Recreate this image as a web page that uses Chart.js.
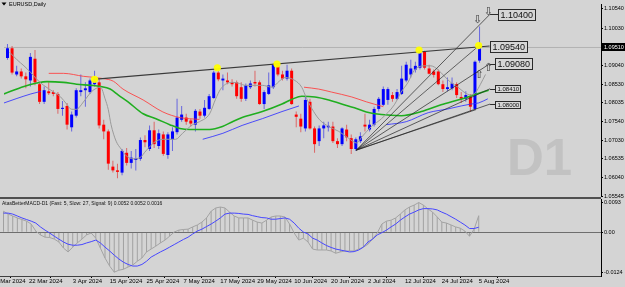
<!DOCTYPE html>
<html>
<head>
<meta charset="utf-8">
<script src="https://cdn.jsdelivr.net/npm/chart.js@4.4.1/dist/chart.umd.min.js"></script>
<style>
  html, body { margin: 0; padding: 0; background: #d4d4d4; }
  #wrap { position: relative; width: 625px; height: 287px; overflow: hidden; background: #d4d4d4; }
  #main { position: absolute; left: 0; top: 0; z-index: 2; }
  #macd { position: absolute; left: 0; top: 197px; z-index: 1; }
  #sep { position: absolute; left: 0; top: 197px; width: 601px; height: 2px; background: #505050; z-index: 3; }
</style>
</head>
<body>
<div id="wrap">
  <canvas id="main" width="625" height="205"></canvas>
  <canvas id="macd" width="625" height="90"></canvas>
  <div id="sep"></div>
</div>
<script>
// ---- data (bar 0 = 13 Mar 2024, bar 103 = 5 Aug 2024) ----
const dateLabels = ['12 Mar 2024', '22 Mar 2024', '3 Apr 2024', '15 Apr 2024', '25 Apr 2024', '7 May 2024',
  '17 May 2024', '29 May 2024', '10 Jun 2024', '20 Jun 2024', '2 Jul 2024', '12 Jul 2024', '24 Jul 2024', '5 Aug 2024'];
const dateBars = [-2.5, 5.5, 15, 23, 31, 39, 47, 55, 63, 71, 79, 87, 95, 103];

const priceTicks = [1.10540, 1.10030, 1.09040, 1.08530, 1.08035, 1.07540, 1.07030, 1.06535, 1.06040, 1.05545];
const macdTicks = [0.0093, 0, -0.0124];

const openP = [1.0923, 1.0949, 1.0879, 1.0887, 1.0874, 1.0863, 1.0921, 1.0853, 1.0806, 1.0834,
  1.0832, 1.0827, 1.0787, 1.0795, 1.0738, 1.0769, 1.0832, 1.0837, 1.0832, 1.0853,
  1.0858, 1.0745, 1.0727, 1.0633, 1.0623, 1.0617, 1.0670, 1.0643, 1.0651, 1.0654,
  1.0704, 1.0680, 1.0730, 1.0688, 1.0719, 1.0664, 1.0706, 1.0725, 1.0758, 1.0764,
  1.0756, 1.0745, 1.0780, 1.0769, 1.0787, 1.0816, 1.0884, 1.0863, 1.0863, 1.0858,
  1.0858, 1.0845, 1.0814, 1.0845, 1.0859, 1.0858, 1.0800, 1.0827, 1.0845, 1.0905,
  1.0879, 1.0868, 1.0889, 1.0772, 1.0761, 1.0735, 1.0806, 1.0735, 1.0701, 1.0735,
  1.0738, 1.0740, 1.0701, 1.0693, 1.0732, 1.0709, 1.0680, 1.0701, 1.0745, 1.0732,
  1.0745, 1.0787, 1.0798, 1.0811, 1.0824, 1.0814, 1.0827, 1.0863, 1.0879, 1.0892,
  1.0897, 1.0939, 1.0895, 1.0887, 1.0887, 1.0853, 1.0840, 1.0842, 1.0853, 1.0819,
  1.0814, 1.0821, 1.0787, 1.0916];
const highP = [1.0960, 1.0955, 1.0902, 1.0895, 1.0884, 1.0936, 1.0944, 1.0861, 1.0847, 1.0858,
  1.0837, 1.0832, 1.0808, 1.0803, 1.0780, 1.0842, 1.0879, 1.0858, 1.0868, 1.0889,
  1.0866, 1.0758, 1.0732, 1.0649, 1.0641, 1.0680, 1.0683, 1.0675, 1.0680, 1.0711,
  1.0717, 1.0743, 1.0753, 1.0732, 1.0727, 1.0725, 1.0738, 1.0814, 1.0795, 1.0774,
  1.0761, 1.0787, 1.0787, 1.0811, 1.0827, 1.0889, 1.0897, 1.0879, 1.0884, 1.0866,
  1.0863, 1.0858, 1.0855, 1.0863, 1.0889, 1.0863, 1.0837, 1.0884, 1.0908, 1.0910,
  1.0889, 1.0905, 1.0895, 1.0780, 1.0774, 1.0819, 1.0814, 1.0740, 1.0743, 1.0753,
  1.0753, 1.0753, 1.0709, 1.0738, 1.0745, 1.0719, 1.0711, 1.0725, 1.0774, 1.0758,
  1.0793, 1.0819, 1.0847, 1.0845, 1.0832, 1.0840, 1.0902, 1.0913, 1.0918, 1.0913,
  1.0944, 1.0942, 1.0905, 1.0892, 1.0892, 1.0863, 1.0871, 1.0871, 1.0858, 1.0832,
  1.0834, 1.0827, 1.0916, 1.1007];
const lowP = [1.0918, 1.0879, 1.0874, 1.0868, 1.0842, 1.0847, 1.0850, 1.0800, 1.0800, 1.0824,
  1.0821, 1.0774, 1.0769, 1.0732, 1.0727, 1.0764, 1.0821, 1.0793, 1.0827, 1.0847,
  1.0735, 1.0706, 1.0625, 1.0617, 1.0602, 1.0610, 1.0636, 1.0628, 1.0623, 1.0649,
  1.0685, 1.0675, 1.0683, 1.0680, 1.0662, 1.0654, 1.0675, 1.0719, 1.0753, 1.0745,
  1.0740, 1.0727, 1.0761, 1.0764, 1.0785, 1.0814, 1.0861, 1.0837, 1.0853, 1.0847,
  1.0814, 1.0806, 1.0808, 1.0840, 1.0847, 1.0798, 1.0787, 1.0824, 1.0840, 1.0874,
  1.0863, 1.0863, 1.0798, 1.0738, 1.0725, 1.0727, 1.0732, 1.0670, 1.0688, 1.0709,
  1.0727, 1.0696, 1.0683, 1.0688, 1.0701, 1.0667, 1.0675, 1.0696, 1.0727, 1.0727,
  1.0740, 1.0780, 1.0795, 1.0798, 1.0806, 1.0811, 1.0824, 1.0858, 1.0871, 1.0884,
  1.0892, 1.0892, 1.0879, 1.0871, 1.0850, 1.0832, 1.0834, 1.0837, 1.0816, 1.0803,
  1.0806, 1.0780, 1.0785, 1.0910];
const closeP = [1.0949, 1.0884, 1.0887, 1.0874, 1.0866, 1.0926, 1.0858, 1.0806, 1.0837, 1.0829,
  1.0827, 1.0787, 1.0790, 1.0745, 1.0772, 1.0837, 1.0837, 1.0842, 1.0863, 1.0861,
  1.0743, 1.0727, 1.0641, 1.0623, 1.0619, 1.0675, 1.0643, 1.0657, 1.0655, 1.0704,
  1.0698, 1.0730, 1.0693, 1.0722, 1.0667, 1.0719, 1.0727, 1.0764, 1.0772, 1.0753,
  1.0748, 1.0782, 1.0769, 1.0790, 1.0821, 1.0884, 1.0866, 1.0868, 1.0858, 1.0853,
  1.0821, 1.0814, 1.0850, 1.0855, 1.0855, 1.0800, 1.0832, 1.0850, 1.0905, 1.0879,
  1.0868, 1.0889, 1.0800, 1.0766, 1.0740, 1.0811, 1.0735, 1.0693, 1.0735, 1.0743,
  1.0742, 1.0701, 1.0693, 1.0735, 1.0711, 1.0680, 1.0706, 1.0714, 1.0740, 1.0745,
  1.0787, 1.0814, 1.0840, 1.0840, 1.0814, 1.0832, 1.0868, 1.0905, 1.0895, 1.0902,
  1.0936, 1.0897, 1.0881, 1.0878, 1.0853, 1.0840, 1.0845, 1.0855, 1.0824, 1.0814,
  1.0824, 1.0793, 1.0913, 1.0951];
const lastPrice = 1.0951;

// indicator lines (bar position, price)
const greyBars = [0.5, 2.1, 3.6, 5.1, 6.4, 7.9, 10.1, 11.6, 12.9, 14.0, 15.1, 16.1, 17.7, 18.7, 20.3, 21.3, 22.0, 22.6,
  23.7, 24.8, 25.9, 27.4, 28.9, 30.2, 32.4, 34.6, 36.7, 38.2, 40.4, 41.9, 44.1, 45.4, 46.5, 47.6, 49.1, 50.6,
  51.9, 53.4, 55.6, 57.7, 59.3, 60.6, 62.7, 64.2, 65.3, 66.8, 68.1, 70.1, 72.3, 74.4, 76.2, 77.3, 79.4, 81.6,
  84.4, 85.9, 87.4, 88.7, 90.9, 92.4, 93.9, 95.2, 96.7, 98.3, 99.6, 101.1, 102.2, 103.2, 104.3];
const greyVals = [1.0938, 1.0918, 1.0902, 1.0884, 1.0866, 1.0850, 1.0832, 1.0819, 1.0800, 1.0786, 1.0786, 1.0798, 1.0824, 1.0837, 1.0845, 1.0814, 1.0785, 1.0745,
  1.0701, 1.0680, 1.0662, 1.0654, 1.0657, 1.0675, 1.0701, 1.0706, 1.0706, 1.0722, 1.0745, 1.0753, 1.0774, 1.0813, 1.0840, 1.0853, 1.0858, 1.0855,
  1.0850, 1.0850, 1.0850, 1.0845, 1.0861, 1.0871, 1.0863, 1.0845, 1.0814, 1.0780, 1.0758, 1.0740, 1.0727, 1.0709, 1.0696, 1.0712, 1.0740, 1.0761,
  1.0798, 1.0832, 1.0858, 1.0889, 1.0902, 1.0902, 1.0892, 1.0876, 1.0858, 1.0845, 1.0832, 1.0824, 1.0832, 1.0853, 1.0879];

const greenBars = [-0.76, 3.6, 6.4, 8.6, 12.2, 15.1, 18.1, 20.3, 22.4, 24.2, 26.3, 29.6, 32.4, 35.4, 37.6, 39.8, 44.1, 46.9,
  49.1, 51.2, 55.6, 59.9, 62.1, 64.2, 67.1, 70.1, 72.9, 75.7, 78.3, 81.6, 85.9, 90.3, 94.6, 98.9, 101.7, 105.0];
const greenVals = [1.0827, 1.0847, 1.0856, 1.0860, 1.0858, 1.0853, 1.0850, 1.0847, 1.0840, 1.0824, 1.0806, 1.0774, 1.0761, 1.0745, 1.0735, 1.0732, 1.0732, 1.0740,
  1.0753, 1.0764, 1.0780, 1.0800, 1.0813, 1.0821, 1.0819, 1.0811, 1.0800, 1.0790, 1.0779, 1.0772, 1.0769, 1.0780, 1.0798, 1.0813, 1.0824, 1.0837];

const redBars = [9.0, 12.2, 16.6, 20.9, 23.1, 25.2, 29.6, 33.9, 37.6, 41.9, 50, 64.7, 67.9, 70.7, 75.1, 78.3, 82.0];
const redVals = [1.0882, 1.0882, 1.0874, 1.0868, 1.0861, 1.0840, 1.0811, 1.0779, 1.0764, 1.0759, null, 1.0845, 1.0840, 1.0832, 1.0819, 1.0806, 1.0793];

const blueBars = [-0.76, 2.06, 5.1, 7.3, 20, 42.6, 47.0, 51.2, 55.6, 59.9, 63.6, 70, 82.7, 87.0, 91.8, 96.1, 99.0, 101.1, 102.8, 104.8];
const blueVals = [1.0803, 1.0815, 1.0827, 1.0834, null, 1.0706, 1.0722, 1.0743, 1.0761, 1.0780, 1.0795, null, 1.0745, 1.0753, 1.0777, 1.0787, 1.0795, 1.0800, 1.0803, 1.0814];

// drawn objects
const resBars = [18.75, 105.2];
const resVals = [1.0866, 1.0955];
const touchBars = [19, 45.8, 58.8, 89.8, 102.8];
const touchVals = [1.0866, 1.0897, 1.0907, 1.0944, 1.0956];
const fanFromBar = 76.1, fanFromVal = 1.0677, fanEndBar = 105.3;
const fanTargets = [1.1040, 1.0908, 1.0841, 1.0800];
const fanExtraBars = [102.8, 102.2];
const fanExtraVals = [1.0955, 1.0785];
const levelVals = [1.1040, 1.0954, 1.0908, 1.0841, 1.0800];
const levelBars = [107, 105.2, 106.3, 106.3, 106.3];
const arrowBars = [102.6, 104.9, 102.9, 104.9];
const arrowVals = [1.1023, 1.1045, 1.0877, 1.0895];
const arrowChars = ['\u21E9', '\u21E9', '\u21E7', '\u21E7'];

// MACD panel
const macdMain = [0.0066, 0.0057, 0.0051, 0.0045, 0.0040, 0.0035, 0.0026, 0.0004, -0.0008, -0.0015,
  -0.0016, -0.0021, -0.0030, -0.0049, -0.0061, -0.0046, -0.0033, -0.0021, -0.0008, -0.0002,
  -0.0018, -0.0049, -0.0080, -0.0105, -0.0124, -0.0118, -0.0115, -0.0108, -0.0102, -0.0090,
  -0.0080, -0.0061, -0.0052, -0.0043, -0.0033, -0.0024, -0.0012, 0.0001, 0.0007, 0.0009,
  0.0010, 0.0017, 0.0023, 0.0032, 0.0045, 0.0066, 0.0076, 0.0079, 0.0076, 0.0063,
  0.0051, 0.0045, 0.0045, 0.0045, 0.0038, 0.0032, 0.0029, 0.0038, 0.0048, 0.0051,
  0.0051, 0.0048, 0.0026, -0.0002, -0.0024, -0.0018, -0.0030, -0.0052, -0.0055, -0.0055,
  -0.0055, -0.0058, -0.0065, -0.0061, -0.0058, -0.0058, -0.0058, -0.0052, -0.0046, -0.0037,
  -0.0021, -0.0002, 0.0026, 0.0035, 0.0038, 0.0045, 0.0057, 0.0070, 0.0079, 0.0085,
  0.0093, 0.0085, 0.0073, 0.0063, 0.0048, 0.0032, 0.0029, 0.0023, 0.0017, 0.0013,
  0.0004, -0.0012, 0.0010, 0.0052];
const macdSignal = [0.0060, 0.0060, 0.0057, 0.0051, 0.0045, 0.0040, 0.0035, 0.0029, 0.0017, 0.0007,
  -0.0002, -0.0012, -0.0021, -0.0030, -0.0037, -0.0040, -0.0040, -0.0038, -0.0033, -0.0029,
  -0.0024, -0.0033, -0.0046, -0.0058, -0.0071, -0.0083, -0.0093, -0.0100, -0.0105, -0.0105,
  -0.0100, -0.0090, -0.0077, -0.0069, -0.0061, -0.0054, -0.0046, -0.0038, -0.0030, -0.0022,
  -0.0015, -0.0005, 0.0004, 0.0010, 0.0018, 0.0026, 0.0035, 0.0045, 0.0057, 0.0060,
  0.0060, 0.0059, 0.0057, 0.0056, 0.0052, 0.0049, 0.0046, 0.0045, 0.0041, 0.0041,
  0.0043, 0.0045, 0.0041, 0.0029, 0.0013, 0.0001, -0.0005, -0.0018, -0.0024, -0.0033,
  -0.0041, -0.0047, -0.0052, -0.0055, -0.0058, -0.0061, -0.0060, -0.0055, -0.0046, -0.0030,
  -0.0021, -0.0008, -0.0001, 0.0007, 0.0017, 0.0026, 0.0038, 0.0048, 0.0057, 0.0063,
  0.0070, 0.0074, 0.0074, 0.0073, 0.0070, 0.0063, 0.0057, 0.0049, 0.0041, 0.0032,
  0.0023, 0.0012, 0.0012, 0.0016];

// ---- chart setup ----
const X_MIN = -0.76, X_MAX = 129.5;
const FONT = '"Liberation Sans", Arial, sans-serif';
Chart.defaults.font.family = FONT;
Chart.defaults.color = '#000';

const bars = openP.map((_, i) => i);
const isUp = bars.map(i => closeP[i] >= openP[i]);
const pts = (xs, ys) => xs.map((x, k) => ({x: x, y: ys[k]}));

function lineSet(data, color, width, order, extra) {
    return Object.assign({
        type: 'line', data: data, borderColor: color, borderWidth: width,
        pointRadius: 0, fill: false, order: order, spanGaps: false
    }, extra || {});
}

// keep the plot edges where the screenshot has them
function fitRight(s) { s.width = 24; s.paddingTop = 0; s.paddingBottom = 0; }

const mainPlugin = {
    id: 'mainPlugin',
    beforeDatasetsDraw(chart) {
        const ctx = chart.ctx;
        ctx.save();
        ctx.fillStyle = '#c2c2c2';
        ctx.font = 'bold 51px ' + FONT;
        ctx.fillText('D1', 507, 175);
        ctx.restore();
    },
    afterDatasetsDraw(chart) {
        const ctx = chart.ctx;
        const x = chart.scales.x, y = chart.scales.y;
        ctx.save();
        // hollow arrows
        ctx.font = '11px "DejaVu Sans"';
        ctx.fillStyle = '#3a3a3a';
        ctx.textAlign = 'center';
        ctx.textBaseline = 'middle';
        arrowBars.forEach((b, k) => {
            ctx.fillText(arrowChars[k], x.getPixelForValue(b), y.getPixelForValue(arrowVals[k]));
        });
        // price level boxes
        const endX = x.getPixelForValue(fanEndBar);
        levelVals.forEach((v, k) => {
            const big = k < 3;
            ctx.font = (big ? 9 : 6) + 'px ' + FONT;
            const txt = v.toFixed(5);
            const w = Math.round(ctx.measureText(txt).width) + (big ? 4 : 3);
            const h = big ? 11 : 7;
            const bx = Math.round(x.getPixelForValue(levelBars[k])) + 0.5;
            const yc = y.getPixelForValue(v);
            const by = Math.round(yc - h / 2) + 0.5;
            ctx.strokeStyle = '#2a2a2a';
            ctx.lineWidth = 1;
            if (bx > endX + 1) {
                ctx.beginPath();
                ctx.moveTo(endX, Math.round(yc) + 0.5);
                ctx.lineTo(bx, Math.round(yc) + 0.5);
                ctx.stroke();
            }
            ctx.fillStyle = '#d6d6d6';
            ctx.fillRect(bx, by, w, h);
            ctx.strokeRect(bx, by, w, h);
            ctx.fillStyle = '#111';
            ctx.textAlign = 'left';
            ctx.textBaseline = 'middle';
            ctx.fillText(txt, bx + 2, by + h / 2 + 0.5);
        });
        ctx.restore();
    },
    afterDraw(chart) {
        const ctx = chart.ctx;
        const y = chart.scales.y;
        const area = chart.chartArea;
        ctx.save();
        // current bid marker on the price axis
        const yb = Math.round(y.getPixelForValue(lastPrice));
        ctx.fillStyle = '#000';
        ctx.fillRect(area.right + 1, yb - 4, 24, 8);
        ctx.fillStyle = '#fff';
        ctx.font = '5.5px ' + FONT;
        ctx.textBaseline = 'middle';
        ctx.fillText(lastPrice.toFixed(5), area.right + 3, yb + 0.5);
        // symbol caption
        ctx.fillStyle = '#000';
        ctx.beginPath();
        ctx.moveTo(1.5, 2.5); ctx.lineTo(6.5, 2.5); ctx.lineTo(4, 5.5); ctx.closePath();
        ctx.fill();
        ctx.font = '5.5px ' + FONT;
        ctx.fillText('EURUSD,Daily', 9, 4.5);
        ctx.restore();
    }
};

const fanSets = fanTargets.map(v => lineSet(pts([fanFromBar, fanEndBar], [fanFromVal, v]), 'rgba(30,30,30,0.85)', 0.8, 5))
    .concat(fanExtraBars.map((b, k) => lineSet(pts([fanFromBar, b], [fanFromVal, fanExtraVals[k]]), 'rgba(30,30,30,0.8)', 0.8, 5)));

new Chart(document.getElementById('main'), {
    type: 'bar',
    data: {
        datasets: [
            lineSet(pts([X_MIN, X_MAX], [lastPrice, lastPrice]), '#b2b2b2', 1, 40),
            {
                type: 'bar', data: bars.map(i => ({x: i, y: [lowP[i], highP[i]]})),
                backgroundColor: bars.map(i => isUp[i] ? 'rgba(30,30,230,0.6)' : 'rgba(225,30,30,0.6)'),
                barThickness: 1, grouped: false, inflateAmount: 0, borderWidth: 0, order: 30
            },
            {
                type: 'bar', data: bars.map(i => ({x: i, y: [openP[i], closeP[i]]})),
                backgroundColor: bars.map(i => isUp[i] ? '#0000ff' : '#ff0000'),
                barThickness: 3, grouped: false, inflateAmount: 0, borderWidth: 0, order: 29
            },
            lineSet(pts(greenBars, greenVals), '#1fae1f', 1.6, 14, {cubicInterpolationMode: 'monotone'}),
            lineSet(pts(redBars, redVals), 'rgba(255,60,60,0.85)', 1, 13, {cubicInterpolationMode: 'monotone'}),
            lineSet(pts(blueBars, blueVals), 'rgba(50,50,255,0.85)', 1, 12, {cubicInterpolationMode: 'monotone'}),
            lineSet(pts(greyBars, greyVals), '#9a9a9a', 1, 11, {cubicInterpolationMode: 'monotone'}),
            ...fanSets,
            lineSet(pts(resBars, resVals), '#3a3a3a', 1.1, 4),
            {
                type: 'scatter', data: pts(touchBars, touchVals), showLine: false,
                pointRadius: 3.6, pointBackgroundColor: 'rgba(255,255,0,0.95)', pointBorderWidth: 0, order: 1
            }
        ]
    },
    options: {
        responsive: false,
        animation: false,
        devicePixelRatio: 1,
        layout: {padding: {left: 0, right: 0, top: 0, bottom: 9}},
        plugins: {legend: {display: false}, tooltip: {enabled: false}},
        scales: {
            x: {type: 'linear', min: X_MIN, max: X_MAX, offset: false, display: false},
            y: {
                position: 'right', min: 1.05546, max: 1.10671,
                afterFit: fitRight,
                afterBuildTicks(s) { s.ticks = priceTicks.map(v => ({value: v})); },
                ticks: {
                    autoSkip: false, padding: 1, font: {size: 5.5}, color: '#000',
                    callback: v => v.toFixed(5)
                },
                grid: {drawOnChartArea: false, drawTicks: true, tickLength: 2, color: '#000'},
                border: {display: true, color: '#000', width: 1}
            }
        }
    },
    plugins: [mainPlugin]
});

const macdPlugin = {
    id: 'macdPlugin',
    afterDraw(chart) {
        const ctx = chart.ctx;
        ctx.save();
        ctx.fillStyle = '#111';
        ctx.font = '5px ' + FONT;
        ctx.textBaseline = 'middle';
        ctx.fillText('AtasBetterMACD-D1 (Fast: 5, Slow: 27, Signal: 9) 0.0052 0.0052 0.0016', 2, 7);
        ctx.restore();
    }
};

new Chart(document.getElementById('macd'), {
    type: 'bar',
    data: {
        datasets: [
            {
                type: 'bar', data: pts(bars, macdMain),
                backgroundColor: 'rgba(120,120,120,0.55)',
                barThickness: 1, grouped: false, inflateAmount: 0, borderWidth: 0, order: 10
            },
            lineSet(pts(bars, macdMain), '#a3a3a3', 1, 5),
            lineSet(pts(bars, macdSignal), '#4646ff', 1, 4)
        ]
    },
    options: {
        responsive: false,
        animation: false,
        devicePixelRatio: 1,
        layout: {padding: {left: 0, right: 0, top: 2, bottom: 0}},
        plugins: {legend: {display: false}, tooltip: {enabled: false}},
        scales: {
            x: {
                type: 'linear', min: X_MIN, max: X_MAX, offset: false,
                afterFit(s) { s.height = 11; s.paddingLeft = 0; s.paddingRight = 0; },
                afterBuildTicks(s) { s.ticks = dateBars.map(v => ({value: v})); },
                ticks: {
                    autoSkip: false, maxRotation: 0, align: 'start', padding: 0,
                    font: {size: 6}, color: '#000',
                    callback: (v, i) => dateLabels[i]
                },
                grid: {drawOnChartArea: false, drawTicks: true, tickLength: 2, color: '#000'},
                border: {display: true, color: '#404040', width: 1}
            },
            y: {
                position: 'right', min: -0.0136, max: 0.0104,
                afterFit: fitRight,
                afterBuildTicks(s) { s.ticks = macdTicks.map(v => ({value: v})); },
                ticks: {
                    autoSkip: false, padding: 1, font: {size: 5.5}, color: '#000',
                    callback: v => v === 0 ? '0.00' : v.toFixed(4)
                },
                grid: {
                    drawOnChartArea: true, drawTicks: true, tickLength: 2,
                    color: c => c.tick && c.tick.value === 0 ? '#6e6e6e' : 'rgba(0,0,0,0)',
                    tickColor: '#000'
                },
                border: {display: true, color: '#000', width: 1}
            }
        }
    },
    plugins: [macdPlugin]
});
</script>
</body>
</html>
